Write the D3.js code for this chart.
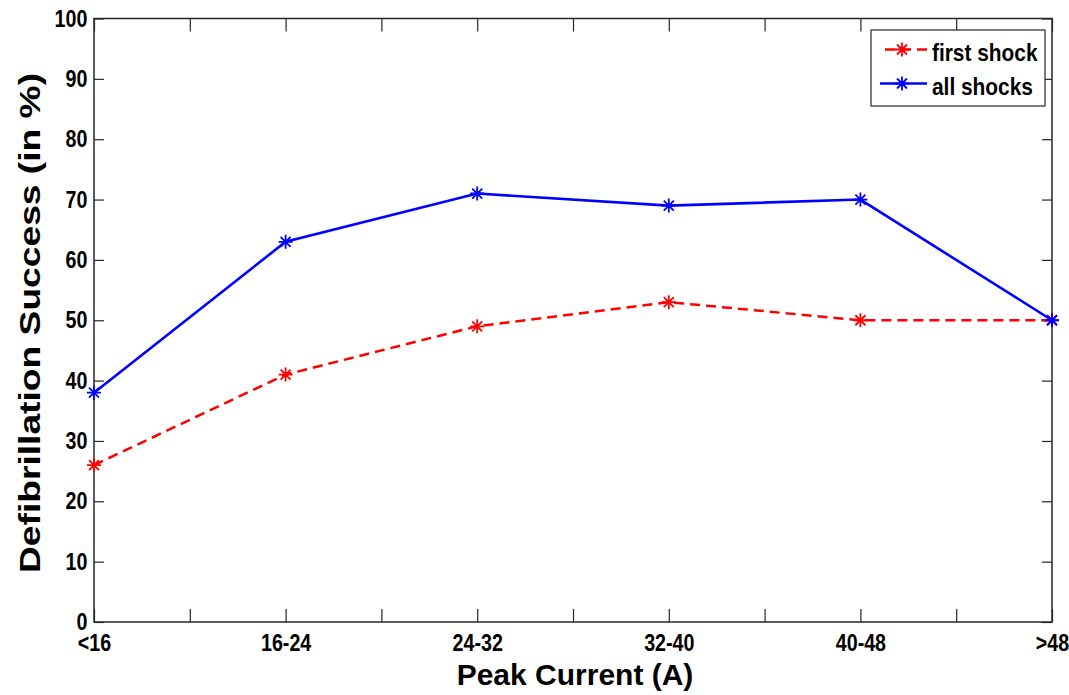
<!DOCTYPE html>
<html>
<head>
<meta charset="utf-8">
<script src="https://cdn.jsdelivr.net/npm/d3@7"></script>
<style>
  body { margin: 0; background: #fff; }
  svg { display: block; }
  text { font-family: "Liberation Sans", Arial, sans-serif; font-weight: bold; }
</style>
</head>
<body>
<div id="chart-area"></div>
<script>
const categories = ["<16", "16-24", "24-32", "32-40", "40-48", ">48"];
const firstShock = [26, 41, 49, 53, 50, 50];
const allShocks = [38, 63, 71, 69, 70, 50];
const yTicks = [0, 10, 20, 30, 40, 50, 60, 70, 80, 90, 100];
const seriesNames = ["first shock", "all shocks"];

const W = 1069, H = 695;
const plot = { left: 94, right: 1052, top: 18.5, bottom: 622 };

const svg = d3.select("#chart-area").append("svg")
    .attr("width", W)
    .attr("height", H);

//Scales
const xScale = d3.scalePoint().domain(categories).range([plot.left, plot.right]);
const xIndex = d3.scaleLinear().domain([0, categories.length - 1]).range([plot.left, plot.right]);
const yScale = d3.scaleLinear().domain([0, 100]).range([plot.bottom, plot.top]);

const midTicks = d3.range(categories.length - 1).map((i) => i + 0.5);
const axisColor = "#262626";

// bottom axis with labels
const xAxisG = svg.append("g")
    .attr("transform", `translate(0, ${plot.bottom})`)
    .call(d3.axisBottom(xScale).tickSize(-13).tickSizeOuter(0).tickPadding(12));
xAxisG.append("g")
    .call(d3.axisBottom(xIndex).tickValues(midTicks).tickSize(-13).tickSizeOuter(0).tickFormat(""));

// top axis, ticks only
const topG = svg.append("g").attr("transform", `translate(0, ${plot.top})`);
topG.append("g").call(d3.axisTop(xScale).tickSize(-13).tickSizeOuter(0).tickFormat(""));
topG.append("g").call(d3.axisTop(xIndex).tickValues(midTicks).tickSize(-13).tickSizeOuter(0).tickFormat(""));

// left axis
const yAxisG = svg.append("g")
    .attr("transform", `translate(${plot.left}, 0)`)
    .call(d3.axisLeft(yScale).tickValues(yTicks).tickSize(-10).tickSizeOuter(0).tickPadding(8));

// right axis, ticks only
const rightG = svg.append("g")
    .attr("transform", `translate(${plot.right}, 0)`)
    .call(d3.axisRight(yScale).tickValues(yTicks).tickSize(-10).tickSizeOuter(0).tickFormat(""));

svg.selectAll(".domain").remove();
svg.selectAll(".tick line").attr("stroke", axisColor).attr("stroke-width", 1.2);
svg.selectAll(".tick text")
    .attr("fill", "#000")
    .style("font-size", "24px")
    .attr("transform", "scale(0.82,1)");

// frame
svg.append("rect")
    .attr("x", plot.left)
    .attr("y", plot.top)
    .attr("width", plot.right - plot.left)
    .attr("height", plot.bottom - plot.top)
    .attr("fill", "none")
    .attr("stroke", axisColor)
    .attr("stroke-width", 1.5);

// Lines
const starPath = "M-7,0H7M0,-7V7M-5,-5L5,5M-5,5L5,-5";
const line = d3.line()
    .x((d, i) => xScale(categories[i]))
    .y((d) => yScale(d));

const series = [
    { name: seriesNames[0], values: firstShock, color: "#ff0000", dash: "10,6", width: 2.5 },
    { name: seriesNames[1], values: allShocks, color: "#0000ff", dash: null, width: 2.6 },
];

series.forEach((s) => {
    svg.append("path")
        .datum(s.values)
        .attr("fill", "none")
        .attr("stroke", s.color)
        .attr("stroke-width", s.width)
        .attr("stroke-dasharray", s.dash)
        .attr("d", line);

    svg.append("g").selectAll("path")
        .data(s.values)
        .enter()
        .append("path")
        .attr("transform", (d, i) => `translate(${xScale(categories[i])}, ${yScale(d)})`)
        .attr("d", starPath)
        .attr("fill", "none")
        .attr("stroke", s.color)
        .attr("stroke-width", 1.8);
});

// Legend
const legend = svg.append("g");
legend.append("rect")
    .attr("x", 871)
    .attr("y", 30)
    .attr("width", 174)
    .attr("height", 76)
    .attr("fill", "#fff")
    .attr("stroke", axisColor)
    .attr("stroke-width", 1.2);

series.forEach((s, i) => {
    const row = legend.append("g").attr("transform", `translate(0, ${49.5 + i * 34})`);
    row.append("line")
        .attr("x1", i === 0 ? 885 : 880)
        .attr("x2", 927)
        .attr("stroke", s.color)
        .attr("stroke-width", 2.5)
        .attr("stroke-dasharray", s.dash);
    row.append("path")
        .attr("transform", "translate(902, 0)")
        .attr("d", starPath)
        .attr("fill", "none")
        .attr("stroke", s.color)
        .attr("stroke-width", 1.8);
    row.append("text")
        .attr("transform", "translate(932, 11) scale(0.87,1)")
        .style("font-size", "24px")
        .text(s.name);
});

//Labels
svg.append("text")
    .attr("x", (plot.left + plot.right) / 2 + 2)
    .attr("y", 685)
    .attr("text-anchor", "middle")
    .style("font-size", "30px")
    .text("Peak Current (A)");

svg.append("text")
    .attr("transform", "translate(40, 323) rotate(-90)")
    .attr("text-anchor", "middle")
    .attr("textLength", 500)
    .attr("lengthAdjust", "spacingAndGlyphs")
    .style("font-size", "30px")
    .text("Defibrillation Success (in %)");
</script>
</body>
</html>
